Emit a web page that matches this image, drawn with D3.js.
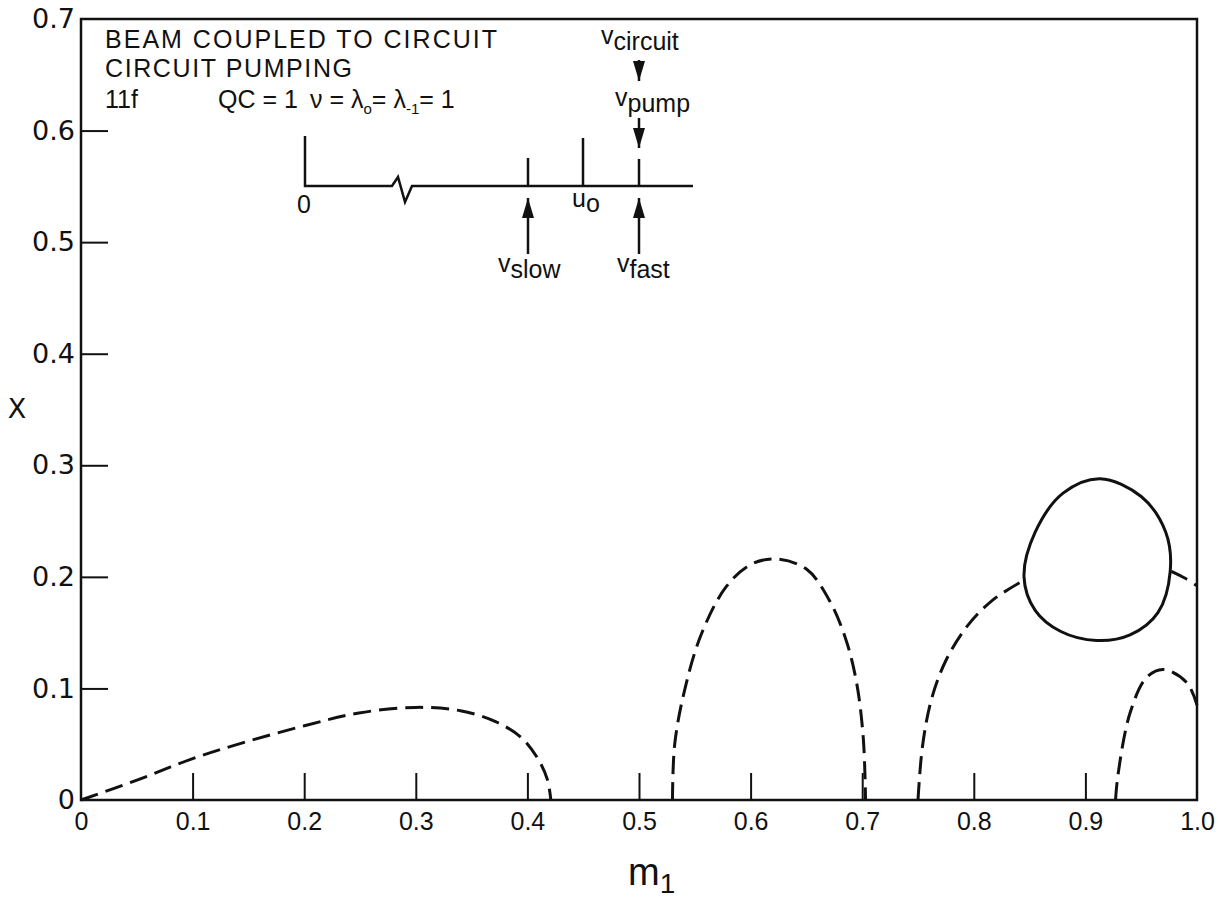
<html>
<head>
<meta charset="utf-8">
<title>Beam coupled to circuit - circuit pumping</title>
<script src="https://d3js.org/d3.v7.min.js"></script>
<style>
  body { margin: 0; background: #fff; }
  text { fill: #111; }
</style>
</head>
<body>
<svg width="1227" height="900"></svg>
<script>
// axis ticks
var xTicks = [0, 0.1, 0.2, 0.3, 0.4, 0.5, 0.6, 0.7, 0.8, 0.9, 1.0];
var xTickLabels = ["0", "0.1", "0.2", "0.3", "0.4", "0.5", "0.6", "0.7", "0.8", "0.9", "1.0"];
var yTicks = [0, 0.1, 0.2, 0.3, 0.4, 0.5, 0.6, 0.7];
var yTickLabels = ["0", "0.1", "0.2", "0.3", "0.4", "0.5", "0.6", "0.7"];

// dashed branches, [m1, x]
var lowBranch = [[0, 0], [0.052, 0.0185], [0.097, 0.036], [0.144, 0.051], [0.202, 0.067], [0.249, 0.078],
  [0.300, 0.083], [0.340, 0.080], [0.372, 0.070], [0.395, 0.0555], [0.410, 0.036], [0.418, 0.018], [0.421, 0]];
var midBranch = [[0.530, 0], [0.532, 0.050], [0.541, 0.099], [0.556, 0.149], [0.578, 0.191], [0.600, 0.211],
  [0.623, 0.216], [0.650, 0.207], [0.670, 0.180], [0.685, 0.145], [0.695, 0.105], [0.701, 0.055], [0.703, 0]];
var highBranchLeft = [[0.750, 0], [0.754, 0.048], [0.762, 0.090], [0.775, 0.125], [0.795, 0.157],
  [0.818, 0.180], [0.845, 0.197]];
var highBranchRight = [[0.977, 0.205], [0.989, 0.199], [1.0, 0.192]];
var smallBranch = [[0.927, 0], [0.929, 0.021], [0.940, 0.078], [0.955, 0.110], [0.970, 0.117],
  [0.991, 0.105], [1.0, 0.085]];
// solid closed loop
var loopPts = [[0.913, 0.288], [0.950, 0.272], [0.972, 0.240], [0.976, 0.205], [0.965, 0.168], [0.940, 0.148],
  [0.910, 0.143], [0.878, 0.151], [0.855, 0.170], [0.845, 0.200], [0.855, 0.240], [0.880, 0.275]];

var svg = d3.select("svg"),
    margin = {top: 19, right: 30, bottom: 100, left: 81},
    width = +svg.attr("width") - margin.left - margin.right,
    height = +svg.attr("height") - margin.top - margin.bottom,
    g = svg.append("g").attr("transform", `translate(${margin.left},${margin.top})`);

var x = d3.scaleLinear().domain([0, 1]).range([0, width]);
var y = d3.scaleLinear().domain([0, 0.7]).range([height, 0]);

var narrow = "'Liberation Sans Narrow', 'Liberation Sans', sans-serif";
var wide = "'DejaVu Sans', 'Liberation Sans', sans-serif";

// inward ticks
g.append("g").attr("transform", `translate(0,${height})`)
  .call(d3.axisBottom(x).tickValues(xTicks.slice(1, -1)).tickSize(-27).tickFormat(""))
  .call(a => a.select(".domain").remove())
  .selectAll("line").attr("stroke", "#111").attr("stroke-width", 2);
g.append("g")
  .call(d3.axisLeft(y).tickValues(yTicks.slice(1, -1)).tickSize(-27).tickFormat(""))
  .call(a => a.select(".domain").remove())
  .selectAll("line").attr("stroke", "#111").attr("stroke-width", 2);

// tick labels
g.append("g").attr("transform", `translate(0,${height})`)
  .call(d3.axisBottom(x).tickValues(xTicks).tickSize(0).tickPadding(12).tickFormat((d, i) => xTickLabels[i]))
  .call(a => a.select(".domain").remove())
  .selectAll("text").style("font", "25px " + narrow).attr("fill", "#111");
g.append("g")
  .call(d3.axisLeft(y).tickValues(yTicks).tickSize(0).tickPadding(6).tickFormat((d, i) => yTickLabels[i]))
  .call(a => a.select(".domain").remove())
  .selectAll("text").style("font", "27px " + wide).attr("fill", "#111");

// frame
g.append("rect").attr("x", 0).attr("y", 0).attr("width", width).attr("height", height)
  .attr("fill", "none").attr("stroke", "#111").attr("stroke-width", 2.5);

// axis titles
svg.append("text").attr("x", 17).attr("y", 418).attr("text-anchor", "middle")
  .style("font", "27px " + wide).text("X");
var mt = svg.append("text").attr("x", 628).attr("y", 885).style("font", "38px " + narrow);
mt.append("tspan").text("m");
mt.append("tspan").attr("dy", 8).style("font-size", "28px").text("1");

// curves
var line = d3.line().x(d => x(d[0])).y(d => y(d[1])).curve(d3.curveCatmullRom.alpha(0.5));
var loopLine = d3.line().x(d => x(d[0])).y(d => y(d[1])).curve(d3.curveCatmullRomClosed.alpha(0.5));

[lowBranch, midBranch, highBranchLeft, highBranchRight, smallBranch].forEach(function (b) {
  g.append("path").attr("d", line(b)).attr("fill", "none").attr("stroke", "#111")
    .attr("stroke-width", 3).attr("stroke-dasharray", "18,8");
});
g.append("path").attr("d", loopLine(loopPts)).attr("fill", "none").attr("stroke", "#111").attr("stroke-width", 3);

// annotation block
var note = svg.append("g").style("font", "25px " + narrow);
note.append("text").attr("x", 105).attr("y", 48).attr("textLength", 392).attr("lengthAdjust", "spacing")
  .text("BEAM COUPLED TO CIRCUIT");
note.append("text").attr("x", 105).attr("y", 77).attr("textLength", 247).attr("lengthAdjust", "spacing")
  .text("CIRCUIT PUMPING");
note.append("text").attr("x", 105).attr("y", 108).text("11f");
note.append("text").attr("x", 218).attr("y", 108).text("QC = 1");
var eq = note.append("text").attr("x", 310).attr("y", 108);
eq.append("tspan").text("ν = λ");
eq.append("tspan").attr("dy", 6).style("font-size", "15px").text("o");
eq.append("tspan").attr("dy", -6).text("= λ");
eq.append("tspan").attr("dy", 6).style("font-size", "15px").text("-1");
eq.append("tspan").attr("dy", -6).text("= 1");

// velocity sketch
var sk = svg.append("g").attr("stroke", "#111").attr("stroke-width", 2.5).attr("fill", "none");
sk.append("path").attr("d", "M305,136V186H392L398,177L405,202L412,186H693");
sk.append("path").attr("d", "M528,158V186M583,138V186M639,159V186");
// arrows
function arrow(x0, y0, y1) {
  sk.append("line").attr("x1", x0).attr("y1", y0).attr("x2", x0).attr("y2", y1);
  var dir = y1 > y0 ? -1 : 1;
  svg.append("path").attr("fill", "#111")
    .attr("d", `M${x0},${y1}L${x0 - 6},${y1 + dir * 20}L${x0 + 6},${y1 + dir * 20}Z`);
}
arrow(528, 254, 198);
arrow(639, 254, 198);
arrow(639, 60, 81);
arrow(639, 118, 148);

function vlabel(x0, y0, sub) {
  var t = note.append("text").attr("x", x0).attr("y", y0);
  t.append("tspan").text("v");
  t.append("tspan").attr("dy", 6).text(sub);
}
vlabel(601, 44, "circuit");
vlabel(615, 106, "pump");
vlabel(498, 272, "slow");
vlabel(617, 272, "fast");
note.append("text").attr("x", 297).attr("y", 213).text("0");
var u = note.append("text").attr("x", 572).attr("y", 207);
u.append("tspan").text("u");
u.append("tspan").attr("dy", 5).text("o");
</script>
</body>
</html>
